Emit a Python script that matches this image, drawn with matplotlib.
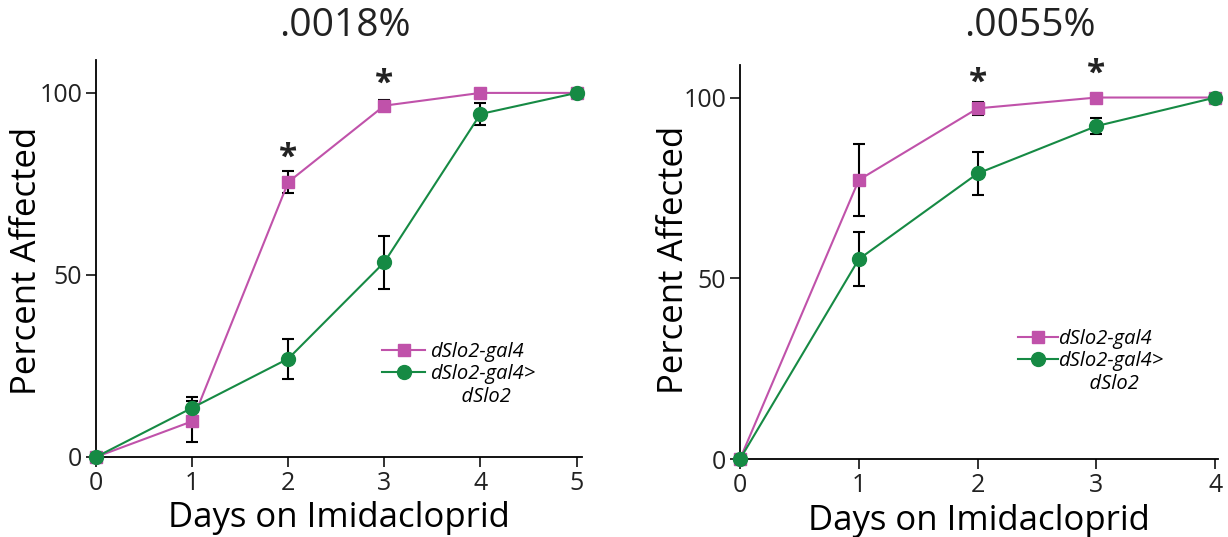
import matplotlib.pyplot as plt
from matplotlib.lines import Line2D

plt.rcParams['font.family'] = ['Open Sans', 'DejaVu Sans']

magenta = '#c052aa'
green = '#168a44'

# .0018% panel
days_a = [0, 1, 2, 3, 4, 5]
gal4_a = [0, 9.8, 75.5, 96.5, 100, 100]
gal4_a_err = [0, 5.7, 3.0, 1.6, 0, 0]
rescue_a = [0, 13.5, 27.0, 53.5, 94.2, 100]
rescue_a_err = [0, 3.0, 5.5, 7.3, 3.1, 0]
stars_a = [(2, 82.0), (3, 102.5)]

# .0055% panel
days_b = [0, 1, 2, 3, 4]
gal4_b = [0, 77.2, 97.0, 100, 100]
gal4_b_err = [0, 10.0, 1.8, 0, 0]
rescue_b = [0, 55.3, 79.0, 92.1, 100]
rescue_b_err = [0, 7.5, 6.0, 2.1, 0]
stars_b = [(2, 104.0), (3, 106.5)]

labels = ['dSlo2-gal4', 'dSlo2-gal4>', '      dSlo2']

fig = plt.figure(figsize=(12.28, 5.37), dpi=100)
ax1 = fig.add_axes([0.0782, 0.149, 0.396, 0.739])
ax2 = fig.add_axes([0.6026, 0.145, 0.389, 0.734])


def draw(ax, days, g, ge, r, re, stars, xmax, leg_anchor, hl, hpad, ylab_xy):
    ax.errorbar(days, g, yerr=ge, color=magenta, marker='s', ms=9, lw=1.5,
                ecolor='black', elinewidth=1.5, capsize=4, capthick=1.5,
                zorder=3)
    ax.errorbar(days, r, yerr=re, color=green, marker='o', ms=10, lw=1.5,
                ecolor='black', elinewidth=1.5, capsize=4, capthick=1.5,
                zorder=3)
    for sx, sy in stars:
        ax.text(sx, sy, '*', ha='center', va='center', fontsize=24,
                fontweight='bold', color='#222222')
    ax.set_xlim(0, xmax)
    ax.set_ylim(0, 109)
    ax.set_xticks(days)
    ax.set_yticks([0, 50, 100])
    ax.spines['top'].set_visible(False)
    ax.spines['right'].set_visible(False)
    ax.spines['left'].set_linewidth(1.3)
    ax.spines['bottom'].set_linewidth(1.3)
    ax.tick_params(labelsize=18, length=7, width=1.3, colors='#222222', pad=3)
    ax.set_xlabel('Days on Imidacloprid', fontsize=25, labelpad=4)
    ax.set_ylabel('Percent Affected', fontsize=25, va='center')
    ax.yaxis.set_label_coords(*ylab_xy)
    for c in ax.get_children():
        c.set_clip_on(False)
    handles = [
        Line2D([], [], color=magenta, marker='s', ms=9, lw=1.5),
        Line2D([], [], color=green, marker='o', ms=10, lw=1.5),
        Line2D([], [], color='none'),
    ]
    ax.legend(handles, labels, loc='upper left', bbox_to_anchor=leg_anchor,
              frameon=False, prop={'style': 'italic', 'size': 14.5},
              handlelength=hl, handletextpad=hpad, labelspacing=0.12,
              borderpad=0, borderaxespad=0)


draw(ax1, days_a, gal4_a, gal4_a_err, rescue_a, rescue_a_err, stars_a,
     5.06, (0.588, 0.29), 2.15, 0.25, (-0.142, 0.495))
draw(ax2, days_b, gal4_b, gal4_b_err, rescue_b, rescue_b_err, stars_b,
     4.02, (0.582, 0.33), 2.0, 0.0, (-0.138, 0.505))

fig.text(345 / 1228, 1 - 26 / 537, '.0018%', ha='center', va='center',
         fontsize=28, color='#222222')
fig.text(1030 / 1228, 1 - 26 / 537, '.0055%', ha='center', va='center',
         fontsize=28, color='#222222')

fig.savefig('out.png', dpi=100)
